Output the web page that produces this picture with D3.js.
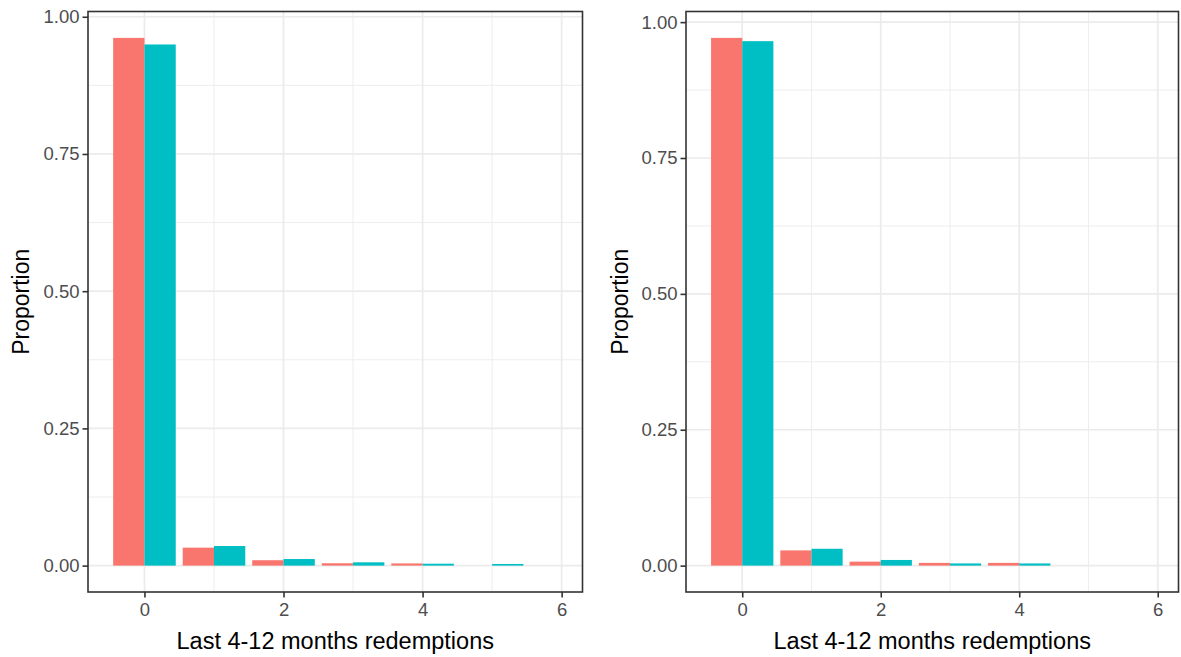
<!DOCTYPE html>
<html><head><meta charset="utf-8">
<script src="https://cdn.jsdelivr.net/npm/d3@7"></script>
<style>body{margin:0;background:#fff;} svg{display:block;}</style>
</head><body>
<svg id="chart" width="1181" height="657"></svg>
<script>
const categories = [0, 1, 2, 3, 4, 5, 6];
const leftRed   = [0.9615, 0.0327, 0.0098, 0.0043, 0.0040, 0.0000, 0.0000];
const leftTeal  = [0.9495, 0.0357, 0.0120, 0.0060, 0.0035, 0.0030, 0.0000];
const rightRed  = [0.9710, 0.0280, 0.0073, 0.0050, 0.0050, 0.0000, 0.0000];
const rightTeal = [0.9650, 0.0310, 0.0104, 0.0040, 0.0040, 0.0000, 0.0000];
const xTicks = [0, 2, 4, 6];
const xMinor = [1, 3, 5];
const yTicks = [0, 0.25, 0.5, 0.75, 1.0];
const yMinor = [0.125, 0.375, 0.625, 0.875];
const seriesColors = ["#F8766D", "#00BFC4"];
const xTitle = "Last 4-12 months redemptions";
const yTitle = "Proportion";

const svg = d3.select("#chart");
const font = "'Liberation Sans', Arial, sans-serif";

function panel(left, right, top, bottom, red, teal, titleX) {
  const g = svg.append("g");
  const x = d3.scaleLinear().domain([-0.812, 6.3]).range([left, right]);
  const maxV = d3.max(red.concat(teal));
  const y = d3.scaleLinear().domain([-0.05 * maxV, maxV * 1.05]).range([bottom, top]);

  // minor grid
  g.selectAll(".xm").data(xMinor).enter().append("line")
    .attr("x1", d => x(d)).attr("x2", d => x(d)).attr("y1", top).attr("y2", bottom)
    .attr("stroke", "#ebebeb").attr("stroke-width", 0.9);
  g.selectAll(".ym").data(yMinor).enter().append("line")
    .attr("x1", left).attr("x2", right).attr("y1", d => y(d)).attr("y2", d => y(d))
    .attr("stroke", "#ebebeb").attr("stroke-width", 0.9);
  // major grid
  g.selectAll(".xg").data(xTicks).enter().append("line")
    .attr("x1", d => x(d)).attr("x2", d => x(d)).attr("y1", top).attr("y2", bottom)
    .attr("stroke", "#ebebeb").attr("stroke-width", 1.7);
  g.selectAll(".yg").data(yTicks).enter().append("line")
    .attr("x1", left).attr("x2", right).attr("y1", d => y(d)).attr("y2", d => y(d))
    .attr("stroke", "#ebebeb").attr("stroke-width", 1.7);

  // bars
  const bw = 0.45;
  [red, teal].forEach((vals, si) => {
    g.selectAll(".b" + si).data(categories.map((c, i) => ({c, v: vals[i]})).filter(d => d.v > 0))
      .enter().append("rect")
      .attr("x", d => x(d.c - bw + si * bw))
      .attr("width", d => x(d.c + si * bw) - x(d.c - bw + si * bw))
      .attr("y", d => y(d.v))
      .attr("height", d => y(0) - y(d.v))
      .attr("fill", seriesColors[si]);
  });

  // border
  g.append("rect").attr("x", left).attr("y", top).attr("width", right - left).attr("height", bottom - top)
    .attr("fill", "none").attr("stroke", "#333333").attr("stroke-width", 1.6);

  // axes
  const xa = g.append("g").attr("transform", `translate(0,${bottom})`)
    .call(d3.axisBottom(x).tickValues(xTicks).tickSize(5.5).tickPadding(5).tickFormat(d3.format("d")));
  const ya = g.append("g").attr("transform", `translate(${left},0)`)
    .call(d3.axisLeft(y).tickValues(yTicks).tickSize(5.5).tickPadding(3).tickFormat(d3.format(".2f")));
  [xa, ya].forEach(a => {
    a.select(".domain").remove();
    a.selectAll("line").attr("stroke", "#333333").attr("stroke-width", 1.6);
    a.selectAll("text").attr("fill", "#4d4d4d").style("font-family", font).style("font-size", "18.5px");
  });

  // titles
  g.append("text").attr("x", (left + right) / 2).attr("y", 649)
    .attr("text-anchor", "middle").style("font-family", font).style("font-size", "23.5px")
    .attr("fill", "#000").text(xTitle);
  g.append("text").attr("transform", `translate(${titleX},${(top + bottom) / 2}) rotate(-90)`)
    .attr("text-anchor", "middle").style("font-family", font).style("font-size", "23px")
    .attr("fill", "#000").text(yTitle);
}

panel(88, 582.5, 11.5, 592, leftRed, leftTeal, 29);
panel(686, 1178.5, 11.5, 592, rightRed, rightTeal, 628);
</script>
</body></html>
